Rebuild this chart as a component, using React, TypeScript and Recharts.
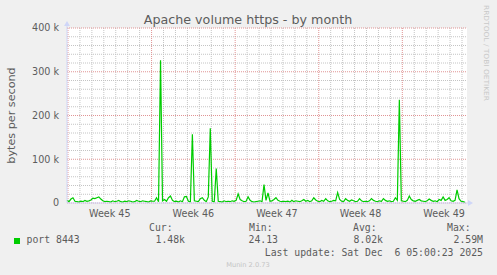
import { LineChart, Line, CartesianGrid, XAxis, YAxis, ReferenceLine, ReferenceDot } from "recharts";

// bytes per second (in k), one sample every 4 hours over the month window
const bytesK = [
    6, 3, 9, 12, 4, 3, 2, 4, 3, 6,
    4, 5, 7, 11, 10, 12, 14, 9, 5, 3,
    4, 3, 2, 5, 3, 4, 6, 3, 2, 4,
    3, 5, 4, 2, 3, 6, 4, 3, 5, 4,
    3, 2, 5, 4, 4, 12, 3, 326, 5, 8,
    4, 12, 16, 6, 3, 4, 2, 5, 3, 14,
    15, 4, 3, 157, 5, 4, 3, 10, 12, 6,
    3, 14, 171, 4, 3, 79, 4, 3, 2, 5,
    3, 4, 3, 5, 4, 6, 21, 8, 5, 3,
    4, 14, 6, 3, 2, 3, 4, 5, 3, 42,
    6, 23, 4, 5, 8, 12, 6, 4, 3, 4,
    3, 4, 2, 6, 3, 5, 4, 3, 5, 8,
    4, 6, 3, 5, 12, 7, 4, 3, 6, 4,
    10, 5, 3, 4, 6, 5, 24, 8, 4, 3,
    10, 6, 4, 7, 5, 3, 4, 10, 5, 3,
    4, 3, 5, 10, 6, 4, 3, 5, 4, 10,
    6, 4, 5, 3, 4, 12, 6, 236, 5, 4,
    3, 6, 16, 8, 5, 4, 6, 8, 5, 4,
    3, 5, 9, 6, 4, 5, 3, 8, 6, 14,
    6, 8, 12, 5, 4, 6, 30, 10, 4, 3,
    1.48,
];

const weekNames = ["Week 45", "Week 46", "Week 47", "Week 48", "Week 49"];
const weekStartHours = [2, 170, 338, 506, 674];
const weekMidHours = [86, 254, 422, 590, 758];
const yTicks = [0, 100, 200, 300, 400];
const yMinor = [20, 40, 60, 80, 120, 140, 160, 180, 220, 240, 260, 280, 320, 340, 360, 380];
const X_END = 804;

const legendHeads = ["Cur:", "Min:", "Avg:", "Max:"];
const legendValues = ["1.48k", "24.13", "8.02k", "2.59M"];

const data = bytesK.map((v, i) => ({ hour: i * 4, bytes: v }));

const dayLines: number[] = [];
for (let h = 2; h < X_END; h += 24) {
    if (!weekStartHours.includes(h)) dayLines.push(h);
}

const minorColor = "#c4c4c4";
const majorColor = "#e09494";
const axisColor = "#cfd6f8";
const fontColor = "#5c5c5c";
const sans = "'DejaVu Sans', sans-serif";
const mono = "'DejaVu Sans Mono', monospace";

export default function App() {
    const tickStyle = { fontSize: 9.6, fill: fontColor, fontFamily: sans };
    return (
        <div style={{ position: "absolute", left: 0, top: 0, width: 497, height: 275, background: "#f0f0f0" }}>
            <LineChart width={497} height={275} data={data} margin={{ top: 28, right: 30, bottom: 52, left: 0 }}>
                <CartesianGrid fill="#ffffff" horizontal={false} vertical={false} />
                {dayLines.map((h) => (
                    <ReferenceLine key={"d" + h} x={h} stroke={minorColor} strokeDasharray="1 1" />
                ))}
                {yMinor.map((v) => (
                    <ReferenceLine key={"m" + v} y={v} stroke={minorColor} strokeDasharray="1 1" />
                ))}
                {weekStartHours.map((h) => (
                    <ReferenceLine key={"w" + h} x={h} stroke={majorColor} strokeDasharray="1 1" />
                ))}
                {yTicks.map((v) => (
                    <ReferenceLine key={"y" + v} y={v} stroke={majorColor} strokeDasharray="1 1" />
                ))}
                <XAxis
                    dataKey="hour"
                    type="number"
                    domain={[0, X_END]}
                    ticks={weekMidHours}
                    interval={0}
                    tickFormatter={(h: number) => weekNames[weekMidHours.indexOf(h)]}
                    height={20}
                    tickLine={false}
                    tickSize={6}
                    tickMargin={1}
                    axisLine={{ stroke: axisColor }}
                    tick={tickStyle}
                />
                <YAxis
                    width={67}
                    domain={[0, 400]}
                    ticks={yTicks}
                    interval={0}
                    tickFormatter={(v: number) => (v === 0 ? "0" : `${v} k`)}
                    tickLine={false}
                    axisLine={{ stroke: axisColor }}
                    tick={tickStyle}
                />
                <Line
                    type="linear"
                    dataKey="bytes"
                    stroke="#00cc00"
                    strokeWidth={1.2}
                    dot={false}
                    isAnimationActive={false}
                />
                <ReferenceDot
                    x={0}
                    y={400}
                    ifOverflow="visible"
                    shape={(p: any) => (
                        <g>
                            <line x1={p.cx} y1={p.cy} x2={p.cx} y2={p.cy - 3} stroke={axisColor} />
                            <path d={`M${p.cx - 3},${p.cy - 2} L${p.cx},${p.cy - 7} L${p.cx + 3},${p.cy - 2} Z`} fill={axisColor} />
                        </g>
                    )}
                />
                <ReferenceDot
                    x={X_END}
                    y={0}
                    ifOverflow="visible"
                    shape={(p: any) => (
                        <g>
                            <line x1={p.cx} y1={p.cy} x2={p.cx + 2} y2={p.cy} stroke={axisColor} />
                            <path d={`M${p.cx + 1},${p.cy - 3} L${p.cx + 6},${p.cy} L${p.cx + 1},${p.cy + 3} Z`} fill={axisColor} />
                        </g>
                    )}
                />
            </LineChart>
            <svg width={497} height={275} style={{ position: "absolute", left: 0, top: 0, pointerEvents: "none" }}>
                <text x={248} y={24} textAnchor="middle" fontFamily={sans} fontSize={12.7} fill={fontColor}>
                    Apache volume https - by month
                </text>
                <text
                    transform="translate(15,115.5) rotate(-90)"
                    textAnchor="middle"
                    fontFamily={sans}
                    fontSize={11.2}
                    fill={fontColor}
                >
                    bytes per second
                </text>
                <text
                    transform="translate(484,53) rotate(90)"
                    textAnchor="middle"
                    fontFamily={sans}
                    fontSize={6.8}
                    fill="#c8c8c8"
                    textLength={96}
                    lengthAdjust="spacingAndGlyphs"
                >
                    RRDTOOL / TOBI OETIKER
                </text>
                <rect x={14} y={238} width={6} height={6} fill="#00cc00" />
                <text x={26.5} y={243.3} fontFamily={mono} fontSize={9.8} fill={fontColor}>
                    port 8443
                </text>
                {legendHeads.map((h, i) => (
                    <text key={h} x={[149, 249, 353, 447][i]} y={231} fontFamily={mono} fontSize={9.8} fill={fontColor}>
                        {h}
                    </text>
                ))}
                {legendValues.map((v, i) => (
                    <text key={v} x={[185, 278, 383, 483][i]} y={243.3} textAnchor="end" fontFamily={mono} fontSize={9.8} fill={fontColor}>
                        {v}
                    </text>
                ))}
                <text x={483} y={255.7} textAnchor="end" fontFamily={mono} fontSize={9.8} fill={fontColor} xmlSpace="preserve">
                    Last update: Sat Dec  6 05:00:23 2025
                </text>
                <text x={248} y={266.5} textAnchor="middle" fontFamily={sans} fontSize={6.7} fill="#c4c4c4">
                    Munin 2.0.73
                </text>
            </svg>
        </div>
    );
}
